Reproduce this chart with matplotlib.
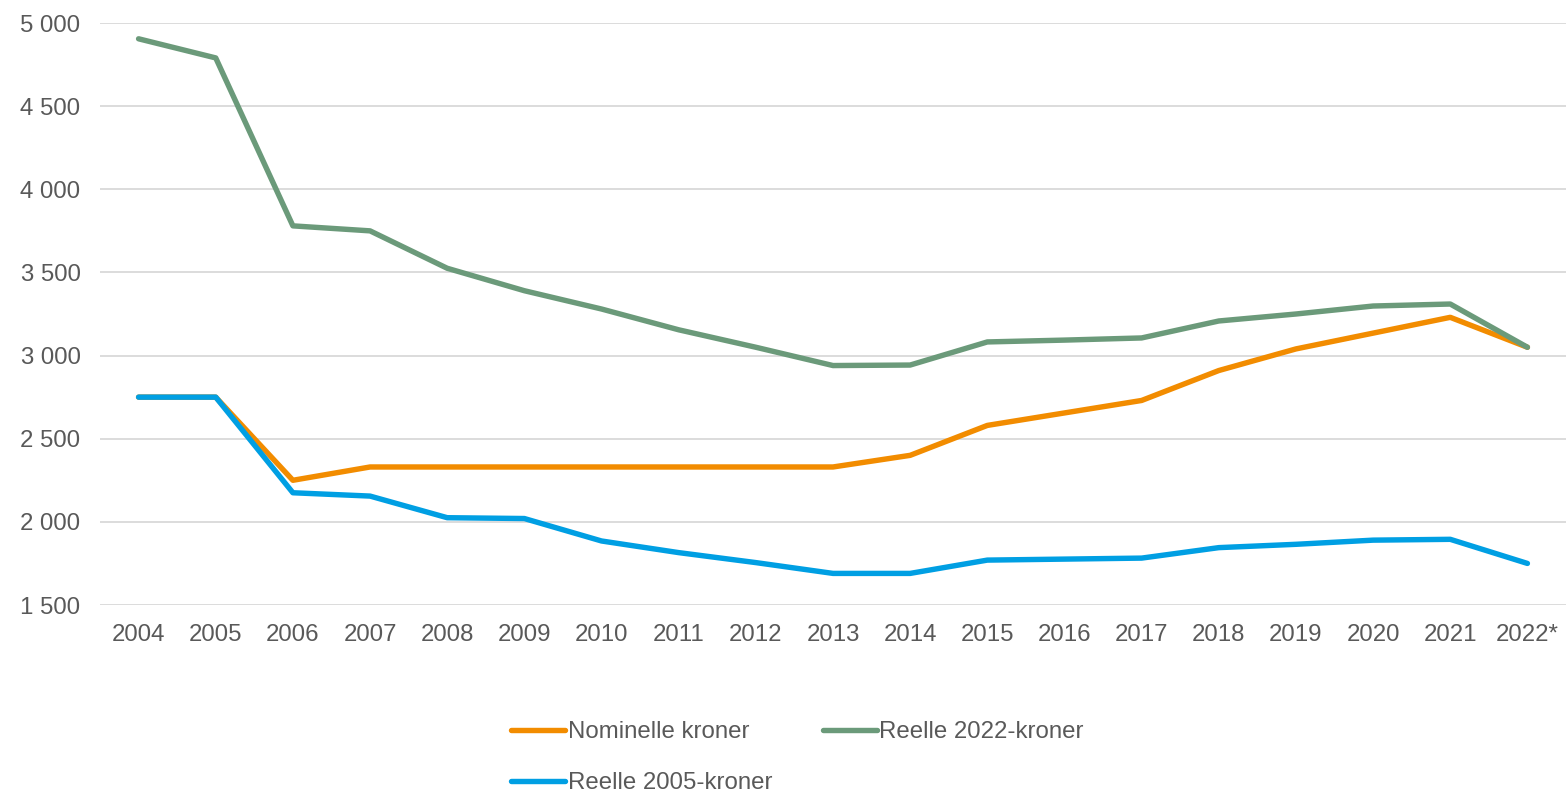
import matplotlib
matplotlib.use("Agg")
import matplotlib.pyplot as plt
from matplotlib.ticker import FuncFormatter

years = ["2004", "2005", "2006", "2007", "2008", "2009", "2010", "2011", "2012", "2013",
         "2014", "2015", "2016", "2017", "2018", "2019", "2020", "2021", "2022*"]
nominelle = [2750, 2750, 2250, 2330, 2330, 2330, 2330, 2330, 2330, 2330,
             2400, 2580, 2655, 2730, 2910, 3040, 3135, 3230, 3050]
reelle_2022 = [4905, 4790, 3780, 3750, 3525, 3390, 3280, 3155, 3050, 2940,
               2943, 3082, 3093, 3106, 3208, 3250, 3298, 3310, 3050]
reelle_2005 = [2750, 2750, 2175, 2155, 2025, 2020, 1885, 1815, 1755, 1690,
               1690, 1770, 1776, 1782, 1845, 1865, 1890, 1895, 1750]
y_ticks = [1500, 2000, 2500, 3000, 3500, 4000, 4500, 5000]

plt.rcParams['font.family'] = ['Liberation Sans', 'DejaVu Sans']

fig = plt.figure(figsize=(15.68, 7.95), dpi=100)
ax = fig.add_axes([100 / 1568, 190 / 795, 1466 / 1568, 582 / 795])

x = list(range(len(years)))
lw = 3.9
l_nom, = ax.plot(x, nominelle, color="#F28C00", lw=lw, label="Nominelle kroner", solid_capstyle="round", zorder=3)
l_22, = ax.plot(x, reelle_2022, color="#6B9A7A", lw=lw, label="Reelle 2022-kroner", solid_capstyle="round", zorder=4)
l_05, = ax.plot(x, reelle_2005, color="#009FE3", lw=lw, label="Reelle 2005-kroner", solid_capstyle="round", zorder=5)

ax.set_xlim(-0.5, len(years) - 0.5)
ax.set_ylim(1500, 5000)
ax.set_yticks(y_ticks)
ax.yaxis.set_major_formatter(FuncFormatter(lambda v, p: f"{int(v):,}".replace(",", " ")))
ax.set_xticks(x)
ax.set_xticklabels(years)

for s in ax.spines.values():
    s.set_visible(False)
ax.grid(axis="y", color="#D9D9D9", lw=1.3, zorder=0)
ax.set_axisbelow(True)
ax.tick_params(axis="both", length=0, labelsize=17.3, colors="#595959")
ax.tick_params(axis="y", pad=14)
ax.tick_params(axis="x", pad=14)

handles = [l_nom, l_05, l_22]
labels = [h.get_label() for h in handles]
leg = fig.legend(handles, labels, ncol=2, loc="center", bbox_to_anchor=(0.5086, 0.047),
                 frameon=False, fontsize=17.3, handlelength=2.25, handletextpad=0.1,
                 columnspacing=2.1, labelspacing=1.22)
for t in leg.get_texts():
    t.set_color("#595959")

fig.savefig("out.png", dpi=100)
